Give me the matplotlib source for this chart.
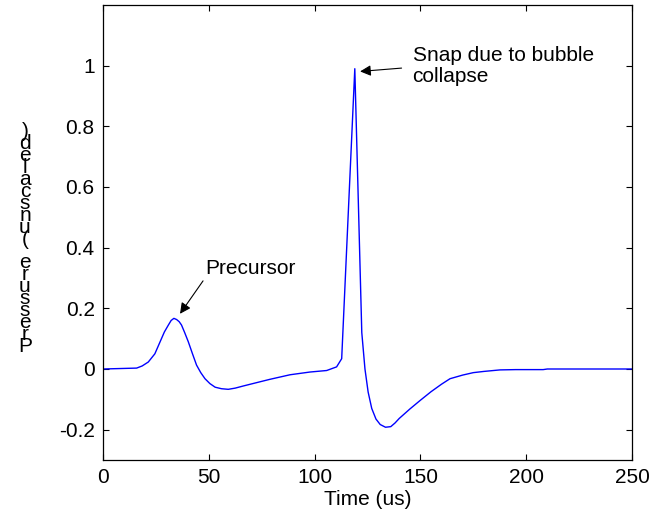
import matplotlib
matplotlib.use("Agg")
import matplotlib.pyplot as plt

plt.rcParams['font.family'] = ['Liberation Sans', 'DejaVu Sans']

# pressure pulse
time_us = [0, 15.9, 18.5, 21.4, 24.5, 27, 29, 30.9, 32.2, 33.5, 34.8, 36, 37.1,
           38.6, 40.3, 42.3, 44.2, 46.2, 48.2, 50.5, 53, 56, 59.2, 62.5,
           66.3, 72, 78.9, 88.4, 97.8, 105.7, 110.4, 112.8, 119, 122.3, 123.8,
           125.3, 127, 129, 131, 133.5, 136, 138, 140, 145, 150, 155, 160, 164,
           170, 175, 180, 187.6, 195, 208, 210, 250]
pressure = [0, 0.003, 0.01, 0.023, 0.05, 0.09, 0.122, 0.145, 0.16, 0.167,
            0.163, 0.156, 0.145, 0.12, 0.09, 0.05, 0.013, -0.012, -0.032,
            -0.048, -0.06, -0.065, -0.067, -0.063, -0.056, -0.046, -0.034,
            -0.019, -0.01, -0.005, 0.007, 0.034, 0.99, 0.12, 0.0, -0.076,
            -0.13, -0.165, -0.183, -0.192, -0.19, -0.178, -0.163, -0.132,
            -0.103, -0.075, -0.05, -0.032, -0.02, -0.012, -0.008, -0.003,
            -0.002, -0.002, 0, 0]

xticks = [0, 50, 100, 150, 200, 250]
yticks = [-0.2, 0, 0.2, 0.4, 0.6, 0.8, 1]
ytick_labels = ['-0.2', '0', '0.2', '0.4', '0.6', '0.8', '1']
ylabel = 'Pressure (unscaled)'

fs = 15
fig = plt.figure(figsize=(6.68, 5.18), dpi=100)
ax = fig.add_axes([103 / 668, 58 / 518, 529 / 668, 455 / 518])
ax.plot(time_us, pressure, color=(0, 0, 1), lw=1)
ax.set_xlim(0, 250)
ax.set_ylim(-0.3, 1.2)
ax.set_xticks(xticks)
ax.set_xticklabels([str(v) for v in xticks])
ax.set_yticks(yticks)
ax.set_yticklabels(ytick_labels)
ax.tick_params(direction='in', length=4, width=0.8, labelsize=fs, pad=6,
               top=True, right=True)
for s in ax.spines.values():
    s.set_linewidth(0.9)
ax.set_xlabel('Time (us)', fontsize=fs, labelpad=2)

ax.annotate('Precursor', xy=(36.4, 0.182), xytext=(48.2, 0.331),
            fontsize=fs, va='center', ha='left',
            arrowprops=dict(arrowstyle='-|>', color='black', lw=0.8,
                            mutation_scale=16, shrinkA=0, shrinkB=0,
                            relpos=(0.0, 0.0)))
ax.annotate('', xy=(121.5, 0.981), xytext=(141.1, 0.992),
            arrowprops=dict(arrowstyle='-|>', color='black', lw=0.8,
                            mutation_scale=16, shrinkA=0, shrinkB=0))
ax.text(146.3, 0.998, 'Snap due to bubble\ncollapse', fontsize=fs,
        va='center', ha='left', linespacing=1.15)

# y label as in the original: upright letters stacked bottom to top
stacked = '\n'.join(reversed(ylabel))
fig.text(25 / 668, (518 - 239) / 518, stacked, fontsize=fs, ha='center',
         va='center', multialignment='center', linespacing=0.53)

fig.savefig('out.png', dpi=100)
